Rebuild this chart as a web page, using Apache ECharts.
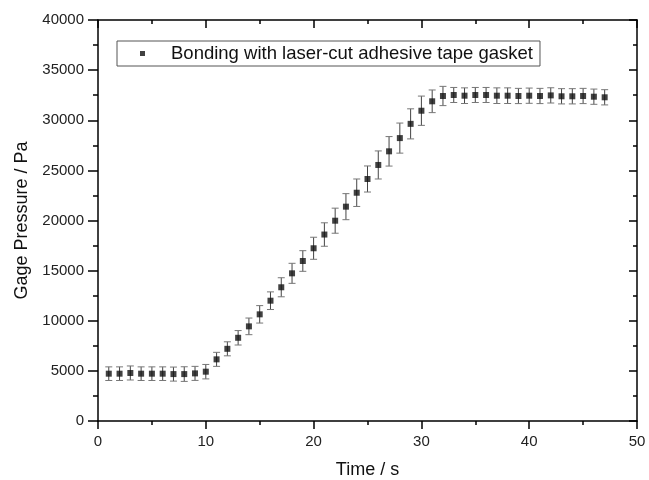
<!DOCTYPE html>
<html>
<head>
<meta charset="utf-8">
<script src="https://cdn.jsdelivr.net/npm/echarts@6/dist/echarts.min.js"></script>
<style>
  html, body { margin: 0; padding: 0; background: #fff; }
  #chart { width: 649px; height: 480px; }
</style>
</head>
<body>
<div id="chart"></div>
<script>
// time (s)
const times = [1, 2, 3, 4, 5, 6, 7, 8, 9, 10, 11, 12, 13, 14, 15, 16, 17, 18, 19, 20,
  21, 22, 23, 24, 25, 26, 27, 28, 29, 30, 31, 32, 33, 34, 35, 36, 37, 38, 39, 40,
  41, 42, 43, 44, 45, 46, 47];
// gage pressure (Pa)
const pressures = [4720, 4720, 4790, 4720, 4720, 4720, 4680, 4680, 4750, 4920,
  6150, 7200, 8300, 9440, 10640, 12000, 13340, 14730, 15960, 17230,
  18600, 19980, 21380, 22770, 24140, 25540, 26900, 28220, 29640, 30950,
  31890, 32420, 32520, 32450, 32520, 32520, 32450, 32450, 32420, 32450,
  32420, 32480, 32390, 32390, 32420, 32350, 32290];
// error bar half height (Pa)
const errors = [680, 680, 700, 680, 680, 680, 700, 730, 700, 720,
  700, 700, 720, 830, 870, 880, 950, 1000, 1030, 1100,
  1170, 1250, 1300, 1370, 1300, 1400, 1470, 1500, 1500, 1460,
  1130, 960, 750, 780, 750, 750, 780, 780, 760, 760,
  760, 760, 760, 760, 760, 760, 760];
const seriesName = 'Bonding with laser-cut adhesive tape gasket';

const font = 'Liberation Sans, Arial, sans-serif';
const chart = echarts.init(document.getElementById('chart'));

const points = times.map((t, i) => [t, pressures[i]]);
const bars = times.map((t, i) => [t, pressures[i] - errors[i], pressures[i] + errors[i]]);

// 轴线样式
const lineStyle = { onZero: false, lineStyle: { color: '#000', width: 1.5 } };
const tickStyle = { color: '#000', width: 1.5 };
const labelFont = { color: '#222', fontSize: 15, fontFamily: font, formatter: v => String(v) };

const option = {
  animation: false,
  grid: { left: 98, right: 12, top: 20, bottom: 59, outerBoundsMode: 'none', containLabel: false },
  legend: {
    data: [seriesName],
    left: 117,
    top: 41,
    icon: 'rect',
    itemWidth: 5,
    itemHeight: 5,
    padding: [3, 7, 3, 23],
    borderColor: '#555',
    borderWidth: 1,
    textStyle: { color: '#111', fontSize: 18.5, fontFamily: font, padding: [0, 0, 0, 21] }
  },
  xAxis: [
    {
      type: 'value', min: 0, max: 50, interval: 10,
      name: 'Time / s', nameLocation: 'middle', nameGap: 40,
      nameTextStyle: { color: '#111', fontSize: 18, fontFamily: font },
      axisLine: lineStyle,
      axisTick: { show: true, length: 8, lineStyle: tickStyle },
      minorTick: { show: true, splitNumber: 2, length: 4, lineStyle: tickStyle },
      axisLabel: { ...labelFont, margin: 13 },
      splitLine: { show: false }
    },
    {
      type: 'value', min: 0, max: 50, interval: 10, position: 'top',
      axisLine: lineStyle,
      axisTick: { show: true, inside: true, length: 8, lineStyle: tickStyle },
      minorTick: { show: true, splitNumber: 2, length: 4, lineStyle: tickStyle },
      axisLabel: { show: false },
      splitLine: { show: false }
    }
  ],
  yAxis: [
    {
      type: 'value', min: 0, max: 40000, interval: 5000,
      name: 'Gage Pressure / Pa', nameLocation: 'middle', nameGap: 64,
      nameTextStyle: { color: '#111', fontSize: 18, fontFamily: font },
      axisLine: lineStyle,
      axisTick: { show: true, length: 10, lineStyle: tickStyle },
      minorTick: { show: true, splitNumber: 2, length: 5, lineStyle: tickStyle },
      axisLabel: { ...labelFont, margin: 14 },
      splitLine: { show: false }
    },
    {
      type: 'value', min: 0, max: 40000, interval: 5000, position: 'right',
      axisLine: lineStyle,
      axisTick: { show: true, inside: true, length: 8, lineStyle: tickStyle },
      minorTick: { show: true, splitNumber: 2, length: 4, lineStyle: tickStyle },
      axisLabel: { show: false },
      splitLine: { show: false }
    }
  ],
  series: [
    {
      // 误差棒
      type: 'custom',
      name: 'err',
      data: bars,
      z: 1,
      renderItem(params, api) {
        const x = api.value(0);
        const lo = api.coord([x, api.value(1)]);
        const hi = api.coord([x, api.value(2)]);
        const cap = 3.5;
        const style = { stroke: '#444', lineWidth: 1 };
        const capStyle = { stroke: '#777', lineWidth: 1 };
        return {
          type: 'group',
          children: [
            { type: 'line', shape: { x1: lo[0], y1: lo[1], x2: hi[0], y2: hi[1] }, style },
            { type: 'line', shape: { x1: lo[0] - cap, y1: lo[1], x2: lo[0] + cap, y2: lo[1] }, style: capStyle },
            { type: 'line', shape: { x1: hi[0] - cap, y1: hi[1], x2: hi[0] + cap, y2: hi[1] }, style: capStyle }
          ]
        };
      }
    },
    {
      type: 'scatter',
      name: seriesName,
      data: points,
      symbol: 'rect',
      symbolSize: 6,
      z: 2,
      itemStyle: { color: '#111' }
    },
    {
      // 让上方和右侧的镜像坐标轴显示出来
      type: 'scatter',
      name: 'frame',
      xAxisIndex: 1,
      yAxisIndex: 1,
      data: [],
      silent: true
    }
  ]
};

chart.setOption(option);
</script>
</body>
</html>
